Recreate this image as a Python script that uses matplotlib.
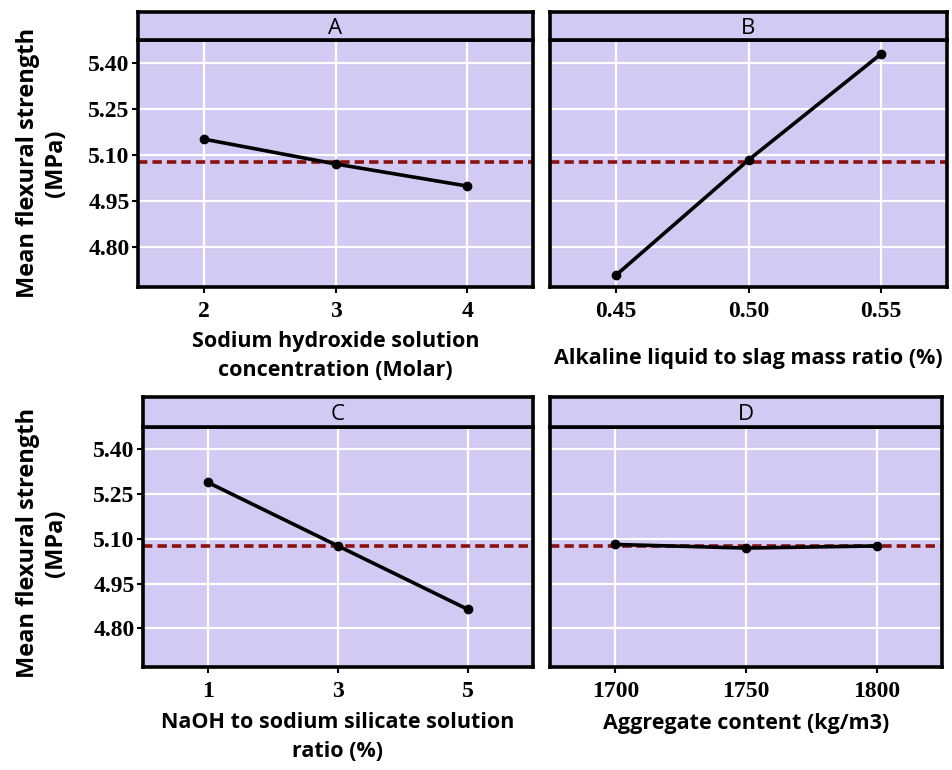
import matplotlib
matplotlib.use("Agg")
from matplotlib import pyplot as plt

# data
labels_a = ["2", "3", "4"]
vals_a = [5.152, 5.071, 4.999]
labels_b = ["0.45", "0.50", "0.55"]
vals_b = [4.709, 5.084, 5.429]
labels_c = ["1", "3", "5"]
vals_c = [5.289, 5.076, 4.863]
labels_d = ["1700", "1750", "1800"]
vals_d = [5.081, 5.069, 5.076]
grand_mean = 5.076
yticks = [4.80, 4.95, 5.10, 5.25, 5.40]

panels = [
    ("A", labels_a, vals_a, "Sodium hydroxide solution\nconcentration (Molar)"),
    ("B", labels_b, vals_b, "Alkaline liquid to slag mass ratio (%)"),
    ("C", labels_c, vals_c, "NaOH to sodium silicate solution\nratio (%)"),
    ("D", labels_d, vals_d, "Aggregate content (kg/m3)"),
]

W, H = 952, 770
# pixel boxes: left, right, strip top, plot top, plot bottom
boxes = [
    (138, 533, 12, 40, 287),
    (550, 947, 12, 40, 287),
    (143, 533, 397, 427, 667),
    (550, 942, 397, 427, 667),
]
xlab_y = [356, 358, 737, 723]

bg = "#d2caf2"
sans = "Open Sans"
serif = "Liberation Serif"

fig = plt.figure(figsize=(W / 100, H / 100), dpi=100)

for i, (name, labs, vals, xlab) in enumerate(panels):
    l, r, st, pt, pb = boxes[i]
    ax = fig.add_axes([l / W, 1 - pb / H, (r - l) / W, (pb - pt) / H])
    sax = fig.add_axes([l / W, 1 - pt / H, (r - l) / W, (pt - st) / H])

    x = list(range(len(labs)))
    ax.set_facecolor(bg)
    ax.grid(True, color="white", lw=1.6)
    ax.set_axisbelow(True)
    ax.axhline(grand_mean, color="#8b1010", lw=2.6, ls=(0, (2.6, 1.4)), zorder=2)
    ax.plot(x, vals, color="black", lw=2.6, marker="o", ms=6, zorder=3)
    ax.set_xlim(-0.5, 2.5)
    ax.set_ylim(4.67, 5.475)
    ax.set_xticks(x)
    ax.set_xticklabels(labs, fontfamily=serif, fontweight="bold", fontsize=17)
    ax.set_yticks(yticks)
    ax.tick_params(axis="both", width=1.5, length=4, pad=6, colors="black")
    if i in (0, 2):
        ax.set_yticklabels(["%.2f" % v for v in yticks], fontfamily=serif,
                           fontweight="bold", fontsize=17)
        ax.tick_params(axis="y", pad=2)
    else:
        ax.set_yticklabels([])
        ax.tick_params(axis="y", length=0)
    for s in ax.spines.values():
        s.set_linewidth(2.6)
        s.set_color("black")

    sax.set_facecolor(bg)
    sax.set_xticks([])
    sax.set_yticks([])
    for s in sax.spines.values():
        s.set_linewidth(2.6)
    sax.text(0.5, 0.42, name, ha="center", va="center", fontsize=16,
             fontfamily=sans, transform=sax.transAxes)

    fig.text((l + r) / 2 / W, 1 - xlab_y[i] / H, xlab, ha="center", va="center",
             fontsize=15.5, fontweight="bold", fontfamily=sans, linespacing=1.45)

for yc in (163, 543):
    fig.text(42 / W, 1 - yc / H, "Mean flexural strength\n(MPa)", rotation=90,
             ha="center", va="center", fontsize=17, fontweight="bold",
             fontfamily=sans, linespacing=1.25)

fig.savefig("out.png", dpi=100)
